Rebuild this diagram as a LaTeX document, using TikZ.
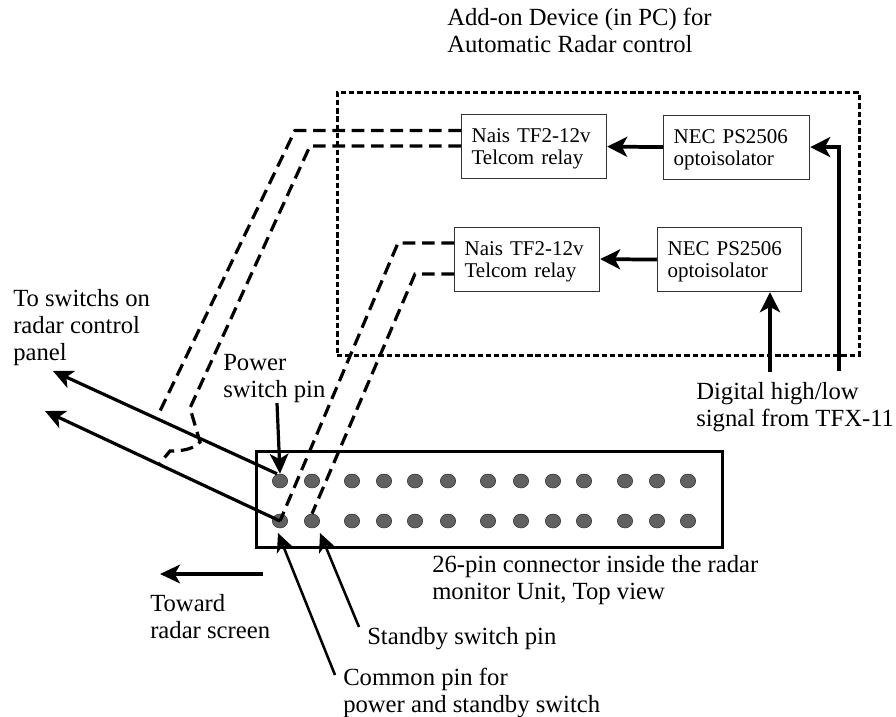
\documentclass[tikz,border=0pt]{standalone}
\usepackage{fontspec}
\setmainfont{Liberation Serif}
\usetikzlibrary{arrows.meta,shapes.geometric}
\tikzset{
  devbox/.style n args={2}{draw=black!80, fill=white, line width=0.9pt, anchor=north west,
    inner xsep=7.5pt, inner ysep=0pt, align=left, text width={(#1-20)*0.75pt},
    minimum height={#2*0.75pt}, font=\fontsize{15.75pt}{16.5pt}\selectfont,
    execute at begin node={\rule{0pt}{14pt}}},
  frame/.style n args={2}{draw=black, anchor=north west, inner sep=0pt,
    minimum width={#1*0.75pt}, minimum height={#2*0.75pt}},
  addonframe/.style={line width=2.3pt, dash pattern=on 4pt off 2.2pt},
  connframe/.style={line width=2.4pt},
  pin/.style={ellipse, fill=black!62, draw=black!80, line width=0.4pt, inner sep=0pt,
    minimum width=11.5pt, minimum height=10.5pt},
  label/.style={anchor=north west, inner sep=0pt, align=left,
    font=\fontsize{18.5pt}{20.25pt}\selectfont},
  wire/.style={line width=2.4pt, dash pattern=on 9.5pt off 5pt},
  thick arrow/.style={line width=2.8pt, -{Stealth[length=15pt,width=15pt,inset=4pt]}},
  mid arrow/.style={line width=2.4pt, -{Stealth[length=15pt,width=14pt,inset=4pt]}},
  thin arrow/.style={line width=1.9pt, -{Stealth[length=14pt,width=13pt,inset=4pt]}},
}
\begin{document}
\begin{tikzpicture}[x=0.75pt,y=-0.75pt]
\useasboundingbox (0,0) rectangle (896,717);
% frames
\node[frame={522}{263}, addonframe] (addon) at (335.5,91) {};
\node[frame={466}{96}, connframe] (conn) at (255,450) {};
% devices
\node[devbox={145}{64}] (relayA) at (461,114) {Nais TF2-12v\\Telcom relay};
\node[devbox={145}{64}] (relayB) at (454,226.5) {Nais TF2-12v\\Telcom relay};
\node[devbox={146}{64}] (optoA) at (663,114.5) {NEC PS2506\\optoisolator};
\node[devbox={144}{64}] (optoB) at (657,227) {NEC PS2506\\optoisolator};
% pins
\foreach \n/\x in {1/280,2/312,3/352,4/384,5/415,6/448,7/488,8/521,9/553,10/584,11/625,12/657,13/688}{
  \node[pin] (pA\n) at (\x,481) {};
  \node[pin] (pB\n) at (\x,521) {};
}
% free ends and bends
\coordinate (sigA) at (770,372);
\coordinate (sigB) at (839,371);
\coordinate (panelA) at (53,371);
\coordinate (panelB) at (45,411);
\coordinate (powerTail) at (277,403);
\coordinate (towardA) at (263,574);
\coordinate (towardB) at (160,574);
\coordinate (commonTail) at (335,675);
\coordinate (commonTip) at (278,533);
\coordinate (standbyTail) at (359,627);
\coordinate (standbyTip) at (320,533);
\coordinate (aUpper) at (461,130.5);
\coordinate (aUpperBend) at (295,130.5);
\coordinate (aUpperEnd) at (160,411);
\coordinate (aLower) at (461,146);
\coordinate (aLowerBend) at (310,146);
\coordinate (aLowerKnee) at (190,408);
\coordinate (aLowerJoin) at (200,442);
\coordinate (aLowerStep) at (170,451);
\coordinate (aLowerEnd) at (160,463);
\coordinate (bUpper) at (454,243);
\coordinate (bUpperBend) at (398,243);
\coordinate (bLower) at (454,274);
\coordinate (bLowerBend) at (415,274);
% dashed wires
\draw[wire] (aUpper) -- (aUpperBend) -- (aUpperEnd);
\draw[wire] (aLower) -- (aLowerBend) -- (aLowerKnee) -- (aLowerJoin)
  .. controls (193,450) and (180,451) .. (aLowerStep) -- (aLowerEnd);
\draw[wire] (bUpper) -- (bUpperBend) -- (pB1.center);
\draw[wire] (bLower) -- (bLowerBend) -- (pB2.north);
% arrows
\draw[thick arrow] (optoA.west) -- (relayA.east);
\draw[thick arrow] (optoB.west) -- (relayB.east);
\draw[thick arrow] (sigB) |- (optoA.east);
\draw[thick arrow] (sigA) -- (sigA |- optoB.south);
\draw[mid arrow] (pA1.north) ++(-3,0) -- (panelA);
\draw[mid arrow] (pB1.center) -- (panelB);
\draw[mid arrow] (powerTail) -- (pA1.north);
\draw[mid arrow] (towardA) -- (towardB);
\draw[thin arrow] (commonTail) -- (commonTip);
\draw[thin arrow] (standbyTail) -- (standbyTip);
% labels
\node[label] (title) at (447,7.5) {Add-on Device (in PC) for\\Automatic Radar control};
\node[label] (panel) at (13,289.5) {To switchs on\\radar control\\panel};
\node[label] (power) at (223,354.5) {Power\\switch pin};
\node[label] (digital) at (696,382.5) {Digital high/low\\signal from TFX-11};
\node[label] (pins) at (432,555.5) {26-pin connector inside the radar\\monitor Unit, Top view};
\node[label] (toward) at (150,594.5) {Toward\\radar screen};
\node[label] (standby) at (367,627.5) {Standby switch pin};
\node[label] (common) at (343,667.5) {Common pin for\\power and standby switch};
\end{tikzpicture}
\end{document}
